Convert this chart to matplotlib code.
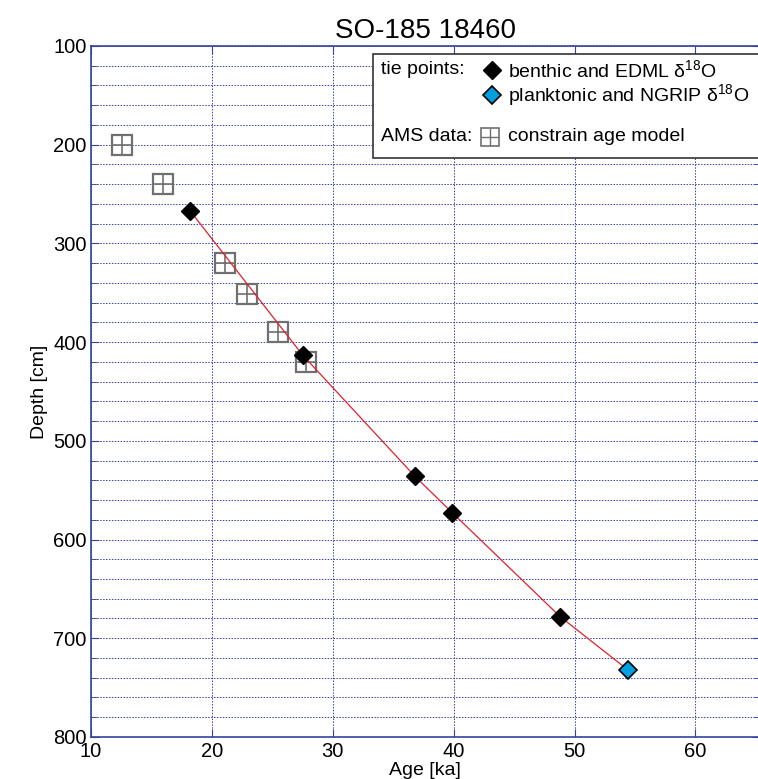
import matplotlib
matplotlib.use("Agg")
import matplotlib.pyplot as plt
from matplotlib.patches import Rectangle
from matplotlib.ticker import MultipleLocator

plt.rcParams['font.family'] = ['Liberation Sans', 'DejaVu Sans']
plt.rcParams['mathtext.fontset'] = 'custom'
plt.rcParams['mathtext.rm'] = 'Liberation Sans'
plt.rcParams['mathtext.it'] = 'Liberation Sans:italic'

# AMS radiocarbon data (age ka, depth cm)
ams_age = [12.6, 16.0, 21.1, 22.9, 25.5, 27.8]
ams_depth = [200, 240, 320, 351, 390, 420]

# tie points: benthic and EDML d18O
ben_age = [18.2, 27.5, 36.8, 39.9, 48.8]
ben_depth = [267, 413, 536, 573, 678]

# tie point: planktonic and NGRIP d18O
pla_age = [54.4]
pla_depth = [732]

# age model line
model_age = ben_age + pla_age
model_depth = ben_depth + pla_depth

title = "SO-185 18460"
xlabel = "Age [ka]"
ylabel = "Depth [cm]"

spine_c = '#3344a0'
grid_c = '#3344a8'

L, B, W, H = 0.12, 0.054, 0.882, 0.887

fig = plt.figure(figsize=(7.58, 7.79), dpi=100)
ax = fig.add_axes([L, B, W, H])

ax.set_xlim(10, 65.3)
ax.set_ylim(800, 100)
ax.xaxis.set_major_locator(MultipleLocator(10))
ax.yaxis.set_major_locator(MultipleLocator(100))
ax.yaxis.set_minor_locator(MultipleLocator(20))

ax.grid(True, which='major', axis='x', color=grid_c, linestyle=(0, (1.5, 1.5)), linewidth=0.7)
ax.grid(True, which='both', axis='y', color=grid_c, linestyle=(0, (1.5, 1.5)), linewidth=0.7)
ax.set_axisbelow(True)

for s in ax.spines.values():
    s.set_color(spine_c)
    s.set_linewidth(1.2)

ax.tick_params(axis='both', which='both', direction='in', colors=spine_c,
               labelcolor='black', labelsize=14.5, top=True, right=True)
ax.tick_params(axis='both', which='major', length=6)
ax.tick_params(axis='y', which='minor', length=4)
ax.tick_params(axis='x', pad=4)
ax.tick_params(axis='y', pad=3)

ax.plot(model_age, model_depth, color='#e0202a', linewidth=0.9, zorder=3)

ax.plot(ams_age, ams_depth, linestyle='none', marker='s', markersize=14,
        markerfacecolor='none', markeredgecolor='#707070', markeredgewidth=1.6, zorder=2)
ax.plot(ams_age, ams_depth, linestyle='none', marker='+', markersize=14,
        markeredgecolor='#707070', markeredgewidth=1.2, zorder=2)

ax.plot(ben_age, ben_depth, linestyle='none', marker='D', markersize=9.5,
        markerfacecolor='black', markeredgecolor='black', zorder=4)
ax.plot(pla_age, pla_depth, linestyle='none', marker='D', markersize=9.5,
        markerfacecolor='#00a0e0', markeredgecolor='black', markeredgewidth=1.2, zorder=4)

ax.set_title(title, fontsize=20, pad=6)
ax.set_xlabel(xlabel, fontsize=14)
ax.set_ylabel(ylabel, fontsize=14, labelpad=4)

tr = ax.transAxes
def ax_x(px):
    return (px - L * 758) / (W * 758)
def ax_y(py):
    return ((779 - py) - B * 779) / (H * 779)

ax.xaxis.set_label_coords(0.5, ax_y(762))
ax.xaxis.label.set_va('top')

# legend box (drawn manually, cut at right edge like reference)
x0, x1 = ax_x(373), ax_x(800)
y0, y1 = ax_y(158), ax_y(54)
ax.add_patch(Rectangle((x0, y0), x1 - x0, y1 - y0, transform=tr,
                       facecolor='white', edgecolor='#333333', linewidth=1.2,
                       zorder=6, clip_on=False))
fs = 14
ax.text(ax_x(381), ax_y(70), "tie points:", transform=tr, fontsize=fs, va='center', zorder=7)
ax.plot([ax_x(492)], [ax_y(70)], transform=tr, marker='D', markersize=9.5,
        markerfacecolor='black', markeredgecolor='black', zorder=7, clip_on=False)
ax.text(ax_x(508), ax_y(70), "benthic and EDML δ$^{18}$O", transform=tr, fontsize=fs,
        va='center', zorder=7)
ax.plot([ax_x(492)], [ax_y(95)], transform=tr, marker='D', markersize=9.5,
        markerfacecolor='#00a0e0', markeredgecolor='black', markeredgewidth=1.2,
        zorder=7, clip_on=False)
ax.text(ax_x(508), ax_y(95), "planktonic and NGRIP δ$^{18}$O", transform=tr, fontsize=fs,
        va='center', zorder=7)
ax.text(ax_x(381), ax_y(137), "AMS data:", transform=tr, fontsize=fs, va='center', zorder=7)
ax.plot([ax_x(490)], [ax_y(137)], transform=tr, marker='s', markersize=13,
        markerfacecolor='none', markeredgecolor='#707070', markeredgewidth=1.2,
        zorder=7, clip_on=False)
ax.plot([ax_x(490)], [ax_y(137)], transform=tr, marker='+', markersize=13,
        markeredgecolor='#707070', markeredgewidth=1.0, zorder=7, clip_on=False)
ax.text(ax_x(508), ax_y(137), "constrain age model", transform=tr, fontsize=fs,
        va='center', zorder=7)

fig.savefig("out.png", dpi=100)
